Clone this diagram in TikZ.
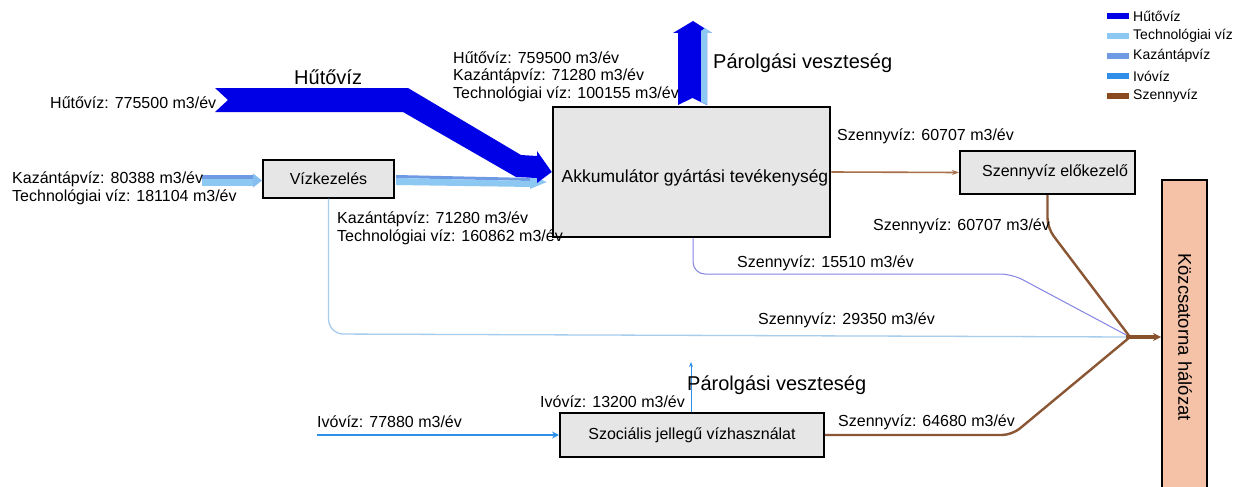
\documentclass[tikz,border=0pt]{standalone}
\usepackage{fontspec}
\setmainfont{Liberation Sans}
\usetikzlibrary{arrows.meta,calc}
\definecolor{hutoviz}{HTML}{0000E6}
\definecolor{techviz}{HTML}{8CC8F2}
\definecolor{kazanviz}{HTML}{6E9AE4}
\definecolor{ivoviz}{HTML}{2F8FE8}
\definecolor{szenny}{HTML}{8B4A1E}
\definecolor{szennylight}{HTML}{A8704A}
\definecolor{szennydark}{HTML}{8A5634}
\definecolor{boxfill}{HTML}{E6E6E6}
\definecolor{sewerfill}{HTML}{F5C2A8}
\definecolor{purpleline}{HTML}{8484E6}
\definecolor{paleline}{HTML}{A6CCEE}
\begin{document}
\begin{tikzpicture}[x=1pt,y=-1pt,
  lbl/.style={anchor=west,inner sep=0pt,font=\fontsize{16}{18}\selectfont},
  bigl/.style={anchor=west,inner sep=0pt,font=\fontsize{20}{22}\selectfont},
  boxtext/.style={inner sep=0pt,font=\fontsize{16}{18}\selectfont},
  procbox/.style={draw=black,line width=2pt,fill=boxfill,inner sep=0pt},
  legtext/.style={anchor=west,inner sep=0pt,font=\fontsize{14}{16}\selectfont},
  swatch/.style={inner sep=0pt,minimum width=22pt,minimum height=6pt},
  ]
\useasboundingbox (0,0) rectangle (1239,487);
\fill[white] (0,0) rectangle (1239,487);

% ---- boxes ----
\node[procbox, minimum width=131pt, minimum height=38pt] (vk) at (328.5,178.5) {};
\node[procbox, line width=2.5pt, minimum width=277pt, minimum height=130pt] (akk) at (691.5,172) {};
\node[procbox, minimum width=175pt, minimum height=43pt] (elo) at (1047.5,172.5) {};
\node[procbox, minimum width=264pt, minimum height=44pt] (szoc) at (692,435) {};
\node[draw=black, line width=2pt, fill=sewerfill, inner sep=0pt, minimum width=45pt, minimum height=320pt] (koz) at (1184.5,340) {};

% ---- input Kazántápvíz / Technológiai víz ----
\coordinate (kin) at (202,178.5);
\fill[kazanviz] ($(kin)+(0,-3.5)$) rectangle ($(vk.west)+(-8,0)$);
\fill[techviz] (kin) rectangle ($(vk.west)+(-8,7.5)$);
\fill[techviz!80!kazanviz] ($(vk.west)+(-9,-5)$) -- ($(vk.west)+(0,2)$) -- ($(vk.west)+(-9,9)$) -- cycle;

% ---- Vízkezelés -> Akkumulátor ----
\fill[kazanviz] ($(vk.east)+(1,-3.5)$) -- (532,178) -- (532,181) -- ($(vk.east)+(1,-0.5)$) -- cycle;
\fill[techviz] ($(vk.east)+(1,-0.5)$) -- (532,181) -- (532,187) -- ($(vk.east)+(1,6.5)$) -- cycle;
\fill[techviz] (530,175) -- ($(akk.west)+(-5,10)$) -- (530,189) -- cycle;

% ---- Hűtővíz ----
\fill[hutoviz] (215,88) -- (408,88) -- (521,155) -- (537,156) -- (537,151) -- (akk.west)
  -- (537,183) -- (537,178) -- (516,177) -- (403,112) -- (215,112) -- (228,100) -- cycle;

% ---- Párolgási veszteség (upper) ----
\fill[hutoviz] (678,105) -- (692.5,98) -- (707,105) -- (707,33) -- (712,33) -- (693,21) -- (673,33) -- (678,33) -- cycle;
\fill[techviz] (701,102) -- (707,105) -- (707,33) -- (712,33) -- (705,28) -- (701,31) -- cycle;

% ---- Szennyvíz flows ----
\coordinate (mrg) at (1130,337);
\draw[szennylight, line width=1.6pt, -{Stealth[length=7pt,width=5pt]}] (akk.east) -- (elo.west);
\draw[paleline, line width=1.3pt, rounded corners=15pt] (vk.south) -- (328.5,334) -- (mrg);
\draw[purpleline, line width=1pt, rounded corners=12pt] ($(akk.south)+(1.5,0)$) -- (693,274) -- (1012,274) -- (mrg);
\draw[szennydark, line width=2.4pt, rounded corners=10pt] (elo.south) -- (1047.5,228) -- (mrg);
\draw[szennydark, line width=2.4pt, rounded corners=10pt] (szoc.east) -- (1012,435) -- (mrg);
\draw[szenny!85!gray, line width=3.5pt, -{Stealth[length=8pt,width=8pt]}] ($(mrg)+(-4,0)$) -- (mrg -| koz.west);

% ---- Ivóvíz ----
\coordinate (ivin) at (317,435);
\draw[ivoviz, line width=2.5pt, -{Stealth[length=7pt,width=7pt]}] (ivin) -- (szoc.west);
\coordinate (ivup) at (691,362);
\draw[ivoviz, line width=0.9pt, -{Stealth[length=5pt,width=4pt]}] ($(szoc.north)+(-1,0)$) -- (ivup);

% ---- box texts ----
\node[boxtext] (vkt) at (vk.center) {Vízkezelés};
\node[inner sep=0pt, font=\fontsize{17.5}{20}\selectfont] (akkt) at (695,178) {Akkumulátor gyártási tevékenység};
\node[boxtext] (elot) at (1055,172.5) {Szennyvíz előkezelő};
\node[boxtext] (szoct) at (szoc.center) {Szociális jellegű vízhasználat};
\node[inner sep=0pt, rotate=-90, font=\fontsize{18.5}{20}\selectfont] (kozt) at (1185,337) {Közcsatorna hálózat};

% ---- labels ----
\node[lbl] (l1) at (50,103) {Hűtővíz: 775500 m3/év};
\node[bigl] (l2) at (294,77) {Hűtővíz};
\node[lbl] (l3) at (12,179) {Kazántápvíz: 80388 m3/év};
\node[lbl] (l4) at (12,197) {Technológiai víz: 181104 m3/év};
\node[lbl] (l5) at (337,219) {Kazántápvíz: 71280 m3/év};
\node[lbl] (l6) at (337,237) {Technológiai víz: 160862 m3/év};
\node[lbl] (l7) at (453,58) {Hűtővíz: 759500 m3/év};
\node[lbl] (l8) at (453,76) {Kazántápvíz: 71280 m3/év};
\node[lbl] (l9) at (453,94) {Technológiai víz: 100155 m3/év};
\node[bigl] (l10) at (713,63) {Párolgási veszteség};
\node[lbl] (l11) at (837,136) {Szennyvíz: 60707 m3/év};
\node[lbl] (l12) at (873,226) {Szennyvíz: 60707 m3/év};
\node[lbl] (l13) at (737,263) {Szennyvíz: 15510 m3/év};
\node[lbl] (l14) at (758,320) {Szennyvíz: 29350 m3/év};
\node[lbl] (l15) at (540,402) {Ivóvíz: 13200 m3/év};
\node[bigl] (l16) at (687,385) {Párolgási veszteség};
\node[lbl] (l17) at (317,422) {Ivóvíz: 77880 m3/év};
\node[lbl] (l18) at (838,422) {Szennyvíz: 64680 m3/év};

% ---- legend ----
\node[swatch, fill=hutoviz] (s1) at (1118,16) {};
\node[legtext] (t1) at (1133,16) {Hűtővíz};
\node[swatch, fill=techviz] (s2) at (1118,36) {};
\node[legtext] (t2) at (1133,36) {Technológiai víz};
\node[swatch, fill=kazanviz] (s3) at (1118,56) {};
\node[legtext] (t3) at (1133,56) {Kazántápvíz};
\node[swatch, fill=ivoviz] (s4) at (1118,76) {};
\node[legtext] (t4) at (1133,76) {Ivóvíz};
\node[swatch, fill=szenny] (s5) at (1118,96) {};
\node[legtext] (t5) at (1133,96) {Szennyvíz};
\end{tikzpicture}
\end{document}
